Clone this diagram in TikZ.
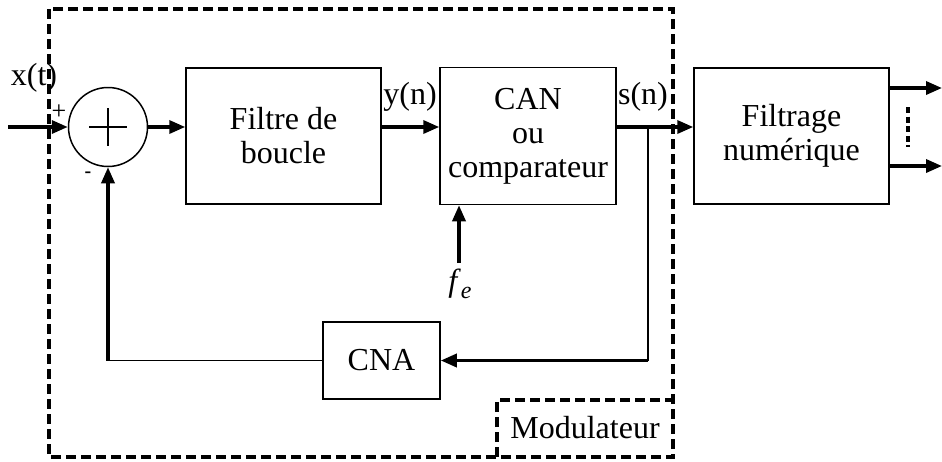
\documentclass[tikz,border=0pt]{standalone}
\usepackage{fontspec}
\setmainfont{Liberation Serif}
\usetikzlibrary{positioning, arrows.meta, calc}

\begin{document}
\begin{tikzpicture}[
    x=0.5pt, y=-0.5pt,
    font=\fontsize{16}{17}\selectfont,
    bloc/.style={draw, line width=0.75pt, align=center, inner sep=0pt},
    fleche/.style={line width=1.7pt, -{Triangle[length=8pt, width=6.5pt]}},
    trait/.style={line width=0.75pt},
    cadre/.style={line width=1.6pt, dash pattern=on 5pt off 2.5pt},
    annotation/.style={inner sep=0pt}
]
\useasboundingbox (0,0) rectangle (942,461);

% cadre du modulateur
\draw[cadre] (49,9) rectangle (673,457);
\node[annotation] (modul) at (585,428) {Modulateur};
\draw[cadre] (497,457) |- (673,400);

% blocs
\node[bloc, circle, minimum size=39.5pt] (som) at (108,127) {};
\draw[trait] ($(som)+(-19,0)$) -- ($(som)+(19,0)$);
\draw[trait] ($(som)+(0,-19)$) -- ($(som)+(0,19)$);
\node[bloc, minimum width=97.5pt, minimum height=68pt] (filtre) at (283.5,136) {Filtre de\\boucle};
\node[bloc, minimum width=88pt, minimum height=68.5pt] (can) at (528,136) {CAN\\ou\\comparateur};
\node[bloc, minimum width=97.5pt, minimum height=68pt] (filtrage) at (791.5,136) {Filtrage\\num\'erique};
\node[bloc, minimum width=58.5pt, minimum height=38.5pt] (cna) at (381.5,360.5) {CNA};

% signaux
\coordinate (entree) at (8,127);
\coordinate (branche) at (648,127);
\coordinate (horloge) at (459,263);
\draw[fleche] (entree) -- (som.west);
\draw[fleche] (som.east) -- (som.east -| filtre.west);
\draw[fleche] (filtre.east |- som.east) -- (can.west |- som.east);
\draw[fleche] (can.east |- som.east) -- (filtrage.west |- som.east);
\draw[fleche] (horloge) -- (horloge |- can.south);
\node[annotation] (fe) at (460,284) {\textit{f}\raisebox{-0.5ex}{\fontsize{12}{12}\selectfont\textit{e}}};

% retour
\draw[trait] (branche) -- (branche |- cna.east);
\draw[fleche] (branche |- cna.east) -- (cna.east);
\draw[trait] (cna.west) -- (som |- cna.west);
\draw[fleche] (som |- cna.west) -- (som.south);

% sorties
\foreach \y in {88,166}
    \draw[fleche] (filtrage.east |- 0,\y) -- (942,\y);
\draw[line width=1.6pt, dash pattern=on 3pt off 1.8pt] (908,107) -- (908,147);

% etiquettes
\node[annotation] (xt) at (34,78) {x(t)};
\node[annotation, font=\fontsize{13}{13}\selectfont] (plus) at (59,112) {+};
\node[annotation, font=\bfseries] (moins) at (88,175) {-};
\node[annotation] (yn) at (410,97) {y(n)};
\node[annotation] (sn) at (643,97) {s(n)};

\end{tikzpicture}
\end{document}
